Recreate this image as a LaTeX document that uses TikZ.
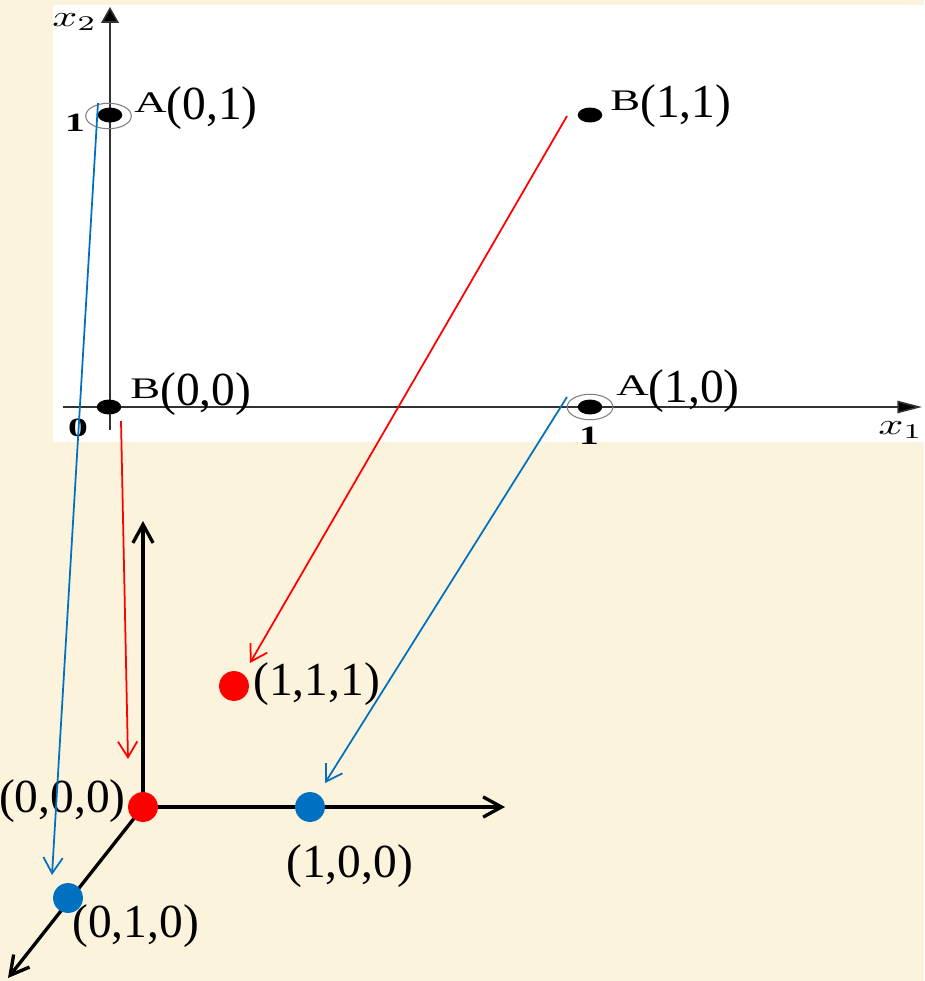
\documentclass[tikz,border=0pt]{standalone}
\usepackage{fontspec}
\setmainfont{Liberation Serif}
\usepackage{graphicx}
\usetikzlibrary{arrows.meta,shapes.geometric}
\definecolor{PaperClr}{RGB}{252,243,221}
\definecolor{MapBlue}{RGB}{0,112,192}
\definecolor{MapRed}{RGB}{255,0,0}
\definecolor{AxisClr}{RGB}{50,50,50}
\newcommand\ptname[1]{\raisebox{3.5pt}{\scalebox{1.5}[1]{\fontsize{17}{17}\selectfont #1}}}
\newcommand\ticklab[1]{\scalebox{1.5}[1]{\fontsize{15}{15}\selectfont\bfseries #1}}
\newcommand\axname[1]{\scalebox{2.5}[1.7]{$#1$}}

\begin{document}
\begin{tikzpicture}[x=0.02cm,y=-0.02cm,
  bigtxt/.style={inner sep=0pt,font=\fontsize{27}{30}\selectfont},
  pt2d/.style={ellipse,fill=black,inner sep=0pt,minimum width=14pt,minimum height=8.5pt},
  ring/.style={ellipse,draw=gray,line width=0.6pt,inner sep=0pt,minimum width=26pt,minimum height=14.5pt},
  pt3d/.style={circle,inner sep=0pt,minimum size=17pt},
  axis2/.style={AxisClr,line width=0.9pt},
  axis3/.style={black,line width=1.9pt,-{Straight Barb[length=10.5pt,width=11.5pt]}},
  mapto/.style={line width=1pt,-{Straight Barb[length=9pt,width=11pt]}}]

\useasboundingbox (0,0) rectangle (924,981);
\fill[PaperClr] (0,0) rectangle (924,981);
\fill[white] (53,5) rectangle (924,442);

% plane x1 x2
\coordinate (H0) at (63,407);
\coordinate (H1) at (922,407);
\coordinate (V0) at (110,430);
\coordinate (V1) at (110,7);
\draw[axis2,-{Triangle[length=14pt,width=7pt,fill=black]}] (H0) -- (H1);
\draw[axis2,-{Triangle[length=9pt,width=10pt,fill=black]}] (V0) -- (V1);

\node[anchor=west,inner sep=0pt] (lx2) at (52,22) {\axname{x_2}};
\node[anchor=west,inner sep=0pt] (lx1) at (878,430) {\axname{x_1}};
\node (t1) at (75,123) {\ticklab{1}};
\node (t0) at (78,428) {\ticklab{0}};
\node (t1x) at (589,436) {\ticklab{1}};

\node[ring] (rA01) at (108.5,116) {};
\node[ring] (rA10) at (590,407) {};
\node[pt2d] (A01) at (110,115) {};
\node[pt2d] (B00) at (109,407) {};
\node[pt2d] (B11) at (590,115) {};
\node[pt2d] (A10) at (590,407) {};

\node[bigtxt,anchor=base west] (lA01) at (134,119) {\ptname{A}(0,1)};
\node[bigtxt,anchor=base west] (lB11) at (610,117) {\ptname{B}(1,1)};
\node[bigtxt,anchor=base west] (lB00) at (130,405) {\ptname{B}(0,0)};
\node[bigtxt,anchor=base west] (lA10) at (616,402) {\ptname{A}(1,0)};

% cube corner
\coordinate (O) at (143,807);
\coordinate (Zt) at (143,521);
\coordinate (Xt) at (505,807);
\coordinate (Yt) at (8,978);
\draw[axis3] (O) -- (Zt);
\draw[axis3] (O) -- (Xt);
\draw[axis3] (O) -- (Yt);

\node[pt3d,fill=MapRed] (P000) at (O) {};
\node[pt3d,fill=MapBlue] (P100) at (310,807) {};
\node[pt3d,fill=MapBlue] (P010) at (68,898) {};
\node[pt3d,fill=MapRed] (P111) at (234,686) {};

\node[bigtxt,anchor=base east] (l000) at (126,812) {(0,0,0)};
\node[bigtxt,anchor=base west] (l100) at (286,877) {(1,0,0)};
\node[bigtxt,anchor=base west] (l010) at (72,937) {(0,1,0)};
\node[bigtxt,anchor=base west] (l111) at (253,695) {(1,1,1)};

% mappings
\coordinate (s1) at (98,103);
\coordinate (e1) at (52,875);
\coordinate (s2) at (121,421);
\coordinate (e2) at (128,759);
\coordinate (s3) at (567,116);
\coordinate (e3) at (250,663);
\coordinate (s4) at (567,397);
\coordinate (e4) at (325,783);
\draw[mapto,MapBlue] (s1) -- (e1);
\draw[mapto,MapRed] (s2) -- (e2);
\draw[mapto,MapRed] (s3) -- (e3);
\draw[mapto,MapBlue] (s4) -- (e4);

\end{tikzpicture}
\end{document}
